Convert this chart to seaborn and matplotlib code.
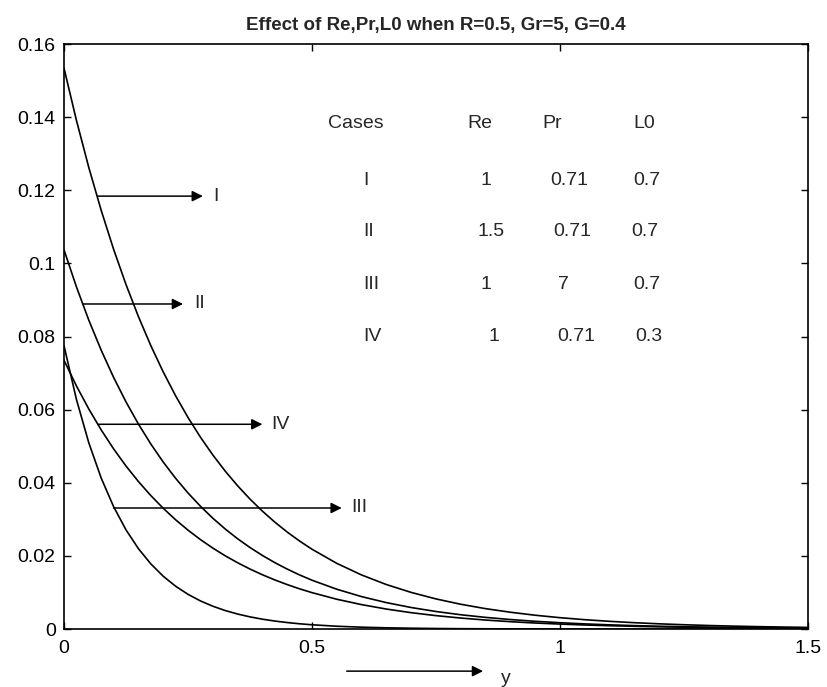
import numpy as np
import pandas as pd
import matplotlib
matplotlib.use("Agg")
import matplotlib.pyplot as plt
import seaborn as sns

# distance from the wall
y_pos = [0.0, 0.025, 0.05, 0.075, 0.1, 0.125, 0.15, 0.175, 0.2, 0.225, 0.25,
         0.275, 0.3, 0.325, 0.35, 0.375, 0.4, 0.425, 0.45, 0.475, 0.5,
         0.55, 0.6, 0.65, 0.7, 0.75, 0.8, 0.85, 0.9, 0.95, 1.0,
         1.05, 1.1, 1.15, 1.2, 1.25, 1.3, 1.35, 1.4, 1.45, 1.5]

# profiles for the four parameter cases
case_I = [0.1534, 0.13915, 0.12622, 0.11450, 0.10386, 0.09422, 0.08546, 0.07752,
          0.07032, 0.06379, 0.05786, 0.05248, 0.04761, 0.04319, 0.03918, 0.03554,
          0.03224, 0.02924, 0.02652, 0.02406, 0.02182,
          0.01796, 0.01478, 0.01216, 0.01001, 0.00823, 0.00677, 0.00557, 0.00459,
          0.00377, 0.00310, 0.00255, 0.00210, 0.00173, 0.00142, 0.00117, 0.00096,
          0.00079, 0.00065, 0.00054, 0.00044]
case_II = [0.1037, 0.09360, 0.08447, 0.07625, 0.06882, 0.06212, 0.05607, 0.05061,
           0.04567, 0.04122, 0.03721, 0.03359, 0.03031, 0.02736, 0.02469, 0.02229,
           0.02012, 0.01816, 0.01639, 0.01479, 0.01335,
           0.01088, 0.00886, 0.00722, 0.00588, 0.00479, 0.00390, 0.00318, 0.00259,
           0.00211, 0.00172, 0.00140, 0.00114, 0.00093, 0.00076, 0.00062, 0.00050,
           0.00041, 0.00033, 0.00027, 0.00022]
case_III = [0.0775, 0.06282, 0.05092, 0.04128, 0.03346, 0.02712, 0.02198, 0.01782,
            0.01444, 0.01171, 0.00949, 0.00769, 0.00624, 0.00505, 0.00410, 0.00332,
            0.00269, 0.00218, 0.00177, 0.00143, 0.00116,
            0.00076, 0.00050, 0.00033, 0.00022, 0.00014, 0.00009, 0.00006, 0.00004,
            0.00003, 0.00002, 0.00001, 0.00001, 0.00001, 0.0, 0.0, 0.0,
            0.0, 0.0, 0.0, 0.0]
case_IV = [0.0735, 0.06650, 0.06018, 0.05445, 0.04927, 0.04458, 0.04034, 0.03650,
           0.03303, 0.02988, 0.02704, 0.02447, 0.02214, 0.02003, 0.01813, 0.01640,
           0.01484, 0.01343, 0.01215, 0.01099, 0.00995,
           0.00814, 0.00667, 0.00546, 0.00447, 0.00366, 0.00300, 0.00245, 0.00201,
           0.00164, 0.00135, 0.00110, 0.00090, 0.00074, 0.00060, 0.00050, 0.00041,
           0.00033, 0.00027, 0.00022, 0.00018]

# parameter table
cases = ["I", "II", "III", "IV"]
re_vals = ["1", "1.5", "1", "1"]
pr_vals = ["0.71", "0.71", "7", "0.71"]
l0_vals = ["0.7", "0.7", "0.7", "0.3"]

x_ticks = [0, 0.5, 1, 1.5]
x_tick_labels = ["0", "0.5", "1", "1.5"]
y_ticks = [0, 0.02, 0.04, 0.06, 0.08, 0.1, 0.12, 0.14, 0.16]
y_tick_labels = ["0", "0.02", "0.04", "0.06", "0.08", "0.1", "0.12", "0.14", "0.16"]

sns.set_style("ticks")
plt.rcParams["font.family"] = ["Liberation Sans", "DejaVu Sans"]

FS = 14

df = pd.DataFrame({
    "y": y_pos * 4,
    "value": case_I + case_II + case_III + case_IV,
    "case": sum([[c] * len(y_pos) for c in cases], []),
})

fig = plt.figure(figsize=(8.27, 6.87), dpi=100)
ax = fig.add_axes([0.0774, 0.0844, 0.8996, 0.8515])

sns.lineplot(data=df, x="y", y="value", units="case", estimator=None,
             color="black", linewidth=1.2, ax=ax, legend=False)

ax.set_xlim(0, 1.5)
ax.set_ylim(0, 0.16)
ax.set_xticks(x_ticks)
ax.set_xticklabels(x_tick_labels)
ax.set_yticks(y_ticks)
ax.set_yticklabels(y_tick_labels)
ax.tick_params(direction="in", length=5, width=1, top=True, right=True,
               labelsize=FS, colors="black")
ax.tick_params(axis="x", pad=8)
ax.tick_params(axis="y", pad=6)
for sp in ax.spines.values():
    sp.set_visible(True)
    sp.set_linewidth(1.2)
    sp.set_color("black")
ax.set_xlabel("")
ax.set_ylabel("")
ax.set_title("Effect of Re,Pr,L0 when R=0.5, Gr=5, G=0.4",
             fontsize=13.5, fontweight="bold", pad=10)

arrow_kw = dict(arrowstyle="-|>", color="black", lw=1.1, mutation_scale=16,
                shrinkA=0, shrinkB=0)

# pointers from each curve to its case label
pointers = [
    ("I", 0.068, 0.28, 0.1184, 0.300),
    ("II", 0.039, 0.24, 0.0889, 0.262),
    ("IV", 0.068, 0.40, 0.0560, 0.418),
    ("III", 0.100, 0.56, 0.0331, 0.580),
]
for lab, x0, x1, yv, xl in pointers:
    ax.annotate("", xy=(x1, yv), xytext=(x0, yv), arrowprops=arrow_kw)
    ax.text(xl, yv, lab, ha="left", va="center", fontsize=FS)

# x axis name with arrow underneath the axis
xt = ax.get_xaxis_transform()
ax.annotate("", xy=(0.845, -0.072), xytext=(0.570, -0.072), xycoords=xt,
            textcoords=xt, arrowprops=arrow_kw, annotation_clip=False)
ax.text(0.88, -0.085, "y", transform=xt, ha="left", va="center", fontsize=FS)

# parameter table inside the axes
ax.text(0.532, 0.1384, "Cases", ha="left", va="center", fontsize=FS)
ax.text(0.8125, 0.1384, "Re", ha="left", va="center", fontsize=FS)
ax.text(0.964, 0.1384, "Pr", ha="left", va="center", fontsize=FS)
ax.text(1.147, 0.1384, "L0", ha="left", va="center", fontsize=FS)
row_y = [0.1228, 0.1086, 0.0941, 0.0799]
re_x = [0.839, 0.833, 0.839, 0.855]
pr_x = [0.980, 0.986, 0.996, 0.994]
l0_x = [1.147, 1.143, 1.147, 1.151]
for i in range(4):
    ax.text(0.603, row_y[i], cases[i], ha="left", va="center", fontsize=FS)
    ax.text(re_x[i], row_y[i], re_vals[i], ha="left", va="center", fontsize=FS)
    ax.text(pr_x[i], row_y[i], pr_vals[i], ha="left", va="center", fontsize=FS)
    ax.text(l0_x[i], row_y[i], l0_vals[i], ha="left", va="center", fontsize=FS)

fig.savefig("out.png", dpi=100)
